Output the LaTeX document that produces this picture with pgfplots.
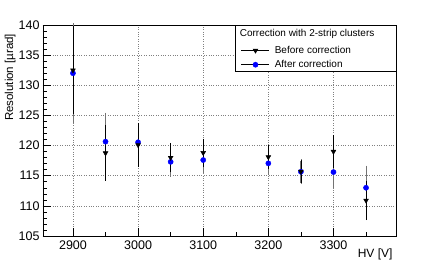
\documentclass[border=0pt]{standalone}
\usepackage{fontspec}
\setmainfont{Liberation Sans}
\usepackage{pgfplots}
\pgfplotsset{compat=1.18}
\definecolor{rootblue}{rgb}{0,0,1}
\definecolor{errgray}{gray}{0.45}
\begin{document}
\begin{tikzpicture}
\begin{axis}[
  scale only axis,
  width=353pt, height=211pt,
  xmin=2854, xmax=3396,
  ymin=105, ymax=140,
  xtick={2900,3000,3100,3200,3300},
  minor xtick={2850,2950,3050,3150,3250,3350},
  ytick={105,110,...,140},
  minor ytick={105,106,...,140},
  tick align=inside,
  major tick length=8pt,
  minor tick length=4pt,
  tick style={black, line width=0.5pt},
  xtick pos=bottom, ytick pos=left,
  grid=major,
  major grid style={gray, dotted, line width=0.5pt},
  axis line style={black, line width=0.6pt},
  /pgf/number format/assume math mode=true,
  /pgf/number format/1000 sep={},
  ticklabel style={font=\fontsize{12.5}{14}\selectfont},
  xticklabel style={yshift=-1pt},
  ylabel={Resolution [µrad]},
  ylabel style={font=\fontsize{11.5}{13}\selectfont, at={(axis description cs:-0.068,0.975)}, anchor=south east},
  xlabel={HV [V]},
  xlabel style={font=\fontsize{12}{14}\selectfont, at={(axis description cs:1,0)}, anchor=north east, yshift=-9pt},
  clip=false,
  legend image code/.code={
    \draw[black, line width=0.6pt] (0pt,0pt) -- (28pt,0pt);
    \draw[#1] plot coordinates {(14pt,0pt)};
  },
  legend style={at={(axis cs:3158,136.7)}, anchor=north west, draw=none, fill=none,
    font=\fontsize{10}{11}\selectfont, inner sep=0pt, row sep=3.5pt, column sep=4pt,
    nodes={inner sep=1pt}},
  legend cell align=left,
]
% After correction (gray error bars, blue circles)
\addplot[draw=none, mark=*, mark size=2.6pt, mark options={fill=rootblue, draw=rootblue}, forget plot,
  error bars/.cd, y dir=both, y explicit, error mark=-, error mark options={mark size=1.6pt, errgray, line width=0.7pt},
  error bar style={errgray, line width=0.9pt}]
coordinates {
(2900,132.0) +- (0,8.0)
(2950,120.65) +- (0,4.55)
(3000,120.55) +- (0,2.7)
(3050,117.3) +- (0,2.2)
(3100,117.6) +- (0,1.9)
(3200,117.05) +- (0,1.6)
(3250,115.65) +- (0,1.8)
(3300,115.6) +- (0,2.4)
(3350,113.0) +- (0,3.4)
};
% Before correction (black error bars, black down triangles)
\addplot[draw=none, mark=triangle*, mark size=2.8pt, mark options={rotate=180, fill=black, draw=black}, forget plot,
  error bars/.cd, y dir=both, y explicit, error mark=-, error mark options={mark size=1.6pt, black, line width=0.6pt},
  error bar style={black, line width=0.6pt}]
coordinates {
(2900,132.5) +- (0,7.0)
(2950,118.75) +- (0,4.35)
(3000,120.1) +- (0,3.4)
(3050,118.0) +- (0,2.2)
(3100,118.8) +- (0,2.1)
(3200,118.1) +- (0,1.7)
(3250,115.7) +- (0,1.6)
(3300,119.0) +- (0,2.5)
(3350,110.9) +- (0,3.0)
};
% legend box and title
\draw[black, line width=0.6pt, fill=white] (axis cs:3150,140) rectangle (axis cs:3396,132.4);
\node[anchor=west, font=\fontsize{10}{11}\selectfont, inner sep=0pt] at (axis cs:3156,138.55) {Correction with 2-strip clusters};
\addlegendimage{mark=triangle*, mark size=2.8pt, mark options={rotate=180, fill=black, draw=black}}
\addlegendentry{Before correction}
\addlegendimage{mark=*, mark size=2.6pt, mark options={fill=rootblue, draw=rootblue}}
\addlegendentry{After correction}
\end{axis}
\pgfresetboundingbox
\path ([shift={(-43pt,-27pt)}]current axis.south west) rectangle ([shift={(44pt,25pt)}]current axis.north east);
\end{tikzpicture}
\end{document}
